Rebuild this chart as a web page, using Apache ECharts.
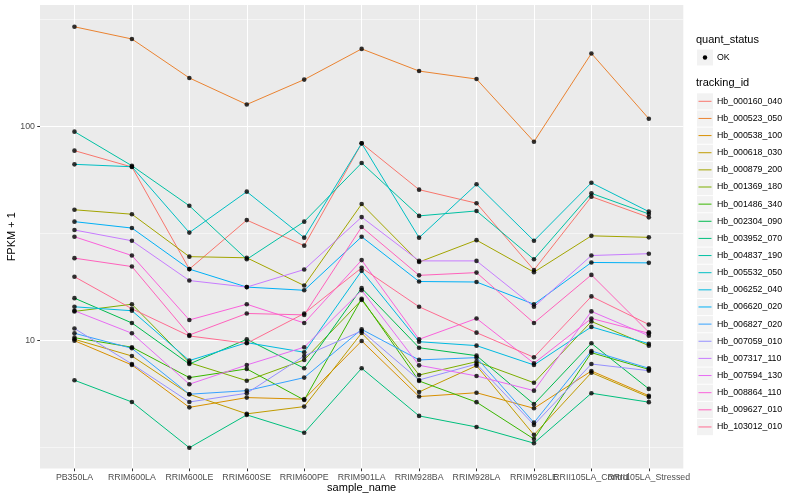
<!DOCTYPE html>
<html><head><meta charset="utf-8">
<script src="https://cdn.jsdelivr.net/npm/echarts@6/dist/echarts.min.js"></script>
<style>html,body{margin:0;padding:0;background:#fff}#c{width:800px;height:500px}</style>
</head><body><div id="c"></div>
<script>
// categories
const samples = ['PB350LA','RRIM600LA','RRIM600LE','RRIM600SE','RRIM600PE','RRIM901LA','RRIM928BA','RRIM928LA','RRIM928LE','RRII105LA_Control','RRII105LA_Stressed'];
const trackingIds = ['Hb_000160_040','Hb_000523_050','Hb_000538_100','Hb_000618_030','Hb_000879_200','Hb_001369_180','Hb_001486_340','Hb_002304_090','Hb_003952_070','Hb_004837_190','Hb_005532_050','Hb_006252_040','Hb_006620_020','Hb_006827_020','Hb_007059_010','Hb_007317_110','Hb_007594_130','Hb_008864_110','Hb_009627_010','Hb_103012_010'];
const colors = ['#F8766D','#EA8331','#D89000','#C09B00','#A3A500','#7CAE00','#39B600','#00BB4E','#00BF7D','#00C1A3','#00BFC4','#00BAE0','#00B0F6','#35A2FF','#9590FF','#C77CFF','#E76BF3','#FA62DB','#FF62BC','#FF6C91'];
// FPKM + 1 values per tracking id, in sample order
const Hb_000160_040 = [77.3, 64.8, 21.6, 36.6, 27.8, 83.6, 50.8, 43.9, 21.4, 47.1, 37.7];
const Hb_000523_050 = [293, 257, 169, 127, 166, 231, 182, 167, 85.1, 220, 109];
const Hb_000538_100 = [10.0, 7.70, 4.88, 5.42, 5.33, 9.97, 5.48, 5.71, 4.83, 7.22, 5.53];
const Hb_000618_030 = [10.15, 8.48, 5.62, 4.55, 4.92, 10.86, 5.76, 7.64, 3.63, 7.09, 5.45];
const Hb_000879_200 = [40.9, 39.0, 24.7, 24.4, 18.1, 43.5, 23.3, 29.5, 20.9, 30.9, 30.4];
const Hb_001369_180 = [13.7, 14.8, 7.89, 6.50, 8.13, 15.5, 6.91, 7.98, 6.36, 12.3, 9.48];
const Hb_001486_340 = [10.33, 9.32, 6.72, 7.38, 5.28, 15.7, 6.48, 5.16, 3.47, 8.79, 7.34];
const Hb_002304_090 = [15.8, 12.1, 7.78, 10.15, 7.43, 17.6, 9.27, 8.51, 5.05, 9.72, 5.95];
const Hb_003952_070 = [6.53, 5.17, 3.16, 4.50, 3.71, 7.43, 4.45, 3.95, 3.32, 5.68, 5.16];
const Hb_004837_190 = [94.8, 65.7, 42.7, 24.0, 36.0, 67.7, 38.3, 40.4, 24.0, 48.8, 39.1];
const Hb_005532_050 = [66.7, 65.0, 32.0, 49.7, 30.3, 83.6, 30.3, 53.8, 29.3, 54.7, 40.1];
const Hb_006252_040 = [14.4, 13.8, 8.07, 9.79, 8.83, 21.2, 9.89, 9.48, 7.70, 11.6, 9.68];
const Hb_006620_020 = [36.0, 33.6, 21.6, 17.8, 17.2, 30.6, 18.9, 18.8, 14.8, 23.2, 23.1];
const Hb_006827_020 = [10.83, 9.21, 5.62, 5.84, 6.72, 11.3, 8.13, 8.33, 4.14, 8.95, 7.43];
const Hb_007059_010 = [11.4, 7.78, 5.17, 5.68, 8.48, 11.1, 6.55, 7.78, 4.04, 7.78, 7.24];
const Hb_007317_110 = [32.9, 29.3, 19.1, 17.8, 21.5, 37.8, 23.6, 23.6, 14.4, 25.0, 25.5];
const Hb_007594_130 = [13.8, 10.83, 6.26, 7.70, 9.32, 17.2, 7.67, 6.84, 5.84, 13.7, 10.55];
const Hb_008864_110 = [30.6, 25.0, 12.5, 14.8, 12.1, 23.8, 10.15, 12.7, 7.84, 12.7, 10.83];
const Hb_009627_010 = [24.3, 22.2, 10.63, 13.4, 13.2, 34.0, 20.2, 20.8, 12.1, 20.3, 10.95];
const Hb_103012_010 = [19.9, 14.1, 10.52, 9.72, 13.4, 21.9, 14.4, 10.90, 8.36, 16.1, 11.9];
// axis ticks
const yMajorTicks = [10, 100];
const yMinorTicks = [3.1623, 31.623, 316.23];
const yTickLabels = ['10', '100'];

const valueSets = [Hb_000160_040,Hb_000523_050,Hb_000538_100,Hb_000618_030,Hb_000879_200,Hb_001369_180,Hb_001486_340,Hb_002304_090,Hb_003952_070,Hb_004837_190,Hb_005532_050,Hb_006252_040,Hb_006620_020,Hb_006827_020,Hb_007059_010,Hb_007317_110,Hb_007594_130,Hb_008864_110,Hb_009627_010,Hb_103012_010];
const xIdx = samples.map((s, i) => i);
const xIdxEven = xIdx.filter(i => i % 2 === 0);
const xIdxOdd = xIdx.filter(i => i % 2 === 1);
const FONT = '"Liberation Sans", Arial, sans-serif';

const series = [];
valueSets.forEach((vals, k) => {
  series.push({
    type: 'line', name: trackingIds[k], showSymbol: false, silent: true,
    lineStyle: { color: colors[k], width: 1 }, itemStyle: { color: colors[k] },
    data: vals.map((v, i) => [i, v]), z: 2, animation: false
  });
});
const pts = [];
valueSets.forEach(vals => vals.forEach((v, i) => pts.push([i, v])));
series.push({ type: 'scatter', data: pts, symbol: 'circle', symbolSize: 4.6, itemStyle: { color: '#000' }, z: 5, silent: true, animation: false });

const graphics = [];
graphics.push({ type: 'text', left: 696, top: 34, style: { text: 'quant_status', font: '11px ' + FONT, fill: '#000' } });
graphics.push({ type: 'rect', shape: { x: 697, y: 49.5, width: 16, height: 16 }, style: { fill: '#F2F2F2' } });
graphics.push({ type: 'circle', shape: { cx: 705, cy: 57.5, r: 2.2 }, style: { fill: '#000' } });
graphics.push({ type: 'text', x: 717, y: 57.5, style: { text: 'OK', font: '8.8px ' + FONT, fill: '#000', verticalAlign: 'middle' } });
graphics.push({ type: 'text', left: 696, top: 77, style: { text: 'tracking_id', font: '11px ' + FONT, fill: '#000' } });
trackingIds.forEach((t, i) => {
  const cy = 101.3 + 17.14 * i;
  graphics.push({ type: 'rect', shape: { x: 697, y: cy - 8, width: 16, height: 16.2 }, style: { fill: '#F2F2F2' } });
  graphics.push({ type: 'line', shape: { x1: 698.5, y1: cy, x2: 711.5, y2: cy }, style: { stroke: colors[i], lineWidth: 1 } });
  graphics.push({ type: 'text', x: 717, y: cy, style: { text: t, font: '8.8px ' + FONT, fill: '#000', verticalAlign: 'middle' } });
});

const labelStyle = { formatter: v => samples[Math.round(v)], fontSize: 8.8, color: '#4D4D4D', margin: 5, fontFamily: FONT, hideOverlap: false, showMinLabel: true, showMaxLabel: true };
const chart = echarts.init(document.getElementById('c'), null, { renderer: 'canvas' });
chart.setOption({
  animation: false,
  backgroundColor: '#fff',
  textStyle: { fontFamily: FONT },
  grid: { left: 40, right: 116.7, top: 5, bottom: 31.5, show: true, backgroundColor: '#EBEBEB', borderWidth: 0, containLabel: false, outerBoundsMode: 'none' },
  xAxis: [{
    type: 'value', min: -0.6, max: 10.6, position: 'bottom',
    name: 'sample_name', nameLocation: 'middle', nameGap: 14, nameMoveOverlap: false,
    nameTextStyle: { fontSize: 11, color: '#000', fontFamily: FONT },
    axisLine: { show: false, onZero: false },
    axisTick: { show: true, length: 2.75, lineStyle: { color: '#333', width: 1 }, customValues: xIdx },
    axisLabel: Object.assign({ customValues: xIdxEven }, labelStyle),
    splitLine: { show: true, lineStyle: { color: '#FFFFFF', width: 1.07 } }
  }, {
    type: 'value', min: -0.6, max: 10.6, position: 'bottom', offset: 0,
    axisLine: { show: false, onZero: false },
    axisTick: { show: false, customValues: xIdxOdd },
    axisLabel: Object.assign({ customValues: xIdxOdd }, labelStyle),
    splitLine: { show: false }
  }],
  yAxis: [{
    type: 'log', logBase: 10, min: 2.527, max: 370.5, position: 'left',
    name: 'FPKM + 1', nameLocation: 'middle', nameGap: 22.5, nameRotate: 90, nameMoveOverlap: false,
    nameTextStyle: { fontSize: 11, color: '#000', fontFamily: FONT },
    axisLine: { show: false, onZero: false },
    axisTick: { show: true, length: 2.75, lineStyle: { color: '#333', width: 1 }, customValues: yMajorTicks },
    axisLabel: { customValues: yMajorTicks, formatter: v => yTickLabels[yMajorTicks.indexOf(Math.round(v))] || '', fontSize: 8.8, color: '#4D4D4D', margin: 5, fontFamily: FONT, showMinLabel: true, showMaxLabel: true },
    splitLine: { show: true, lineStyle: { color: '#FFFFFF', width: 1.07 } }
  }, {
    type: 'log', logBase: 10, min: 2.527, max: 370.5, position: 'left',
    axisLine: { show: false, onZero: false },
    axisTick: { show: false, customValues: yMinorTicks },
    axisLabel: { show: false, customValues: yMinorTicks },
    splitLine: { show: true, lineStyle: { color: '#FFFFFF', width: 0.53 } }
  }],
  graphic: graphics,
  series: series
});
</script></body></html>
